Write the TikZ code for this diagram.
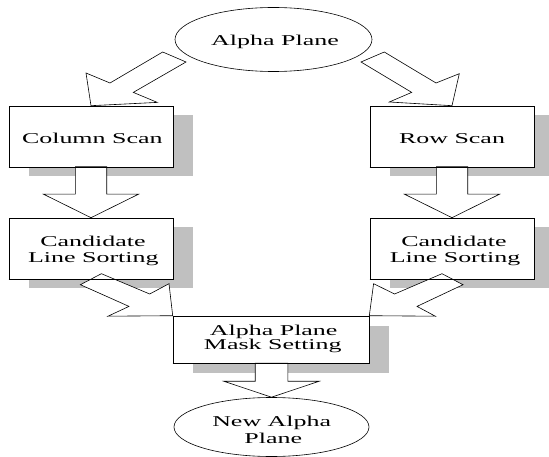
\documentclass[tikz,border=0pt]{standalone}
\usepackage{fontspec}
\newfontfamily\labfont{Liberation Serif}
\usetikzlibrary{shapes.geometric,backgrounds}
\definecolor{shd}{RGB}{192,192,192}
\begin{document}
\begin{tikzpicture}[x=1pt,y=-1pt,
  box/.style={draw, fill=white, line width=0.6pt, minimum width=164pt, minimum height=61pt, inner sep=0pt},
  oval/.style={ellipse, draw, fill=white, line width=0.6pt, inner sep=0pt},
  blk/.style={draw, fill=white, line width=0.6pt, line join=miter},
  edge line/.style={draw, line width=0.6pt},
  lbl/.style={font=\labfont\fontsize{15}{15}\selectfont, xscale=1.73, inner sep=0pt, anchor=base}]
\useasboundingbox (0,0) rectangle (549,457);
\clip (0,0) rectangle (549,457);

% boxes
\node[box] (cs) at (91,136.5) {};
\node[box] (rs) at (452,136.5) {};
\node[box] (cl) at (91,248.5) {};
\node[box] (cr) at (452,248.5) {};
\node[box, minimum width=196pt, minimum height=47pt] (mk) at (271,339.5) {};

% shadows
\begin{pgfonlayer}{background}
\foreach \n in {cs,rs,cl,cr}{
  \fill[shd] ([shift={(20,9)}]\n.south west) rectangle ([shift={(20,9)}]\n.north east);
}
\fill[shd] ([shift={(20,10)}]mk.south west) rectangle ([shift={(20,10)}]mk.north east);
\end{pgfonlayer}

% block arrows
\draw[blk, shift={(cs.north)}] (0,0) -- (66.3,-3.3) -- (42.3,-13.3) -- (95,-43.7) -- (71.7,-53.7) -- (19,-22.7) -- (-5,-32.7) -- cycle;
\draw[blk, shift={(rs.north)}] (0,0) -- (-62.7,-3.7) -- (-40.3,-13.3) -- (-91,-43.7) -- (-67.7,-53.7) -- (-16,-22.7) -- (7.3,-32) -- cycle;
\draw[blk, shift={(cl.north)}] (0,0) -- (-47.5,-23.5) -- (-15.7,-23.5) -- (-15.7,-51) -- (15.7,-51) -- (15.7,-23.5) -- (47.5,-23.5) -- cycle;
\draw[blk, shift={(cr.north)}] (0,0) -- (-47.5,-23.5) -- (-15.7,-23.5) -- (-15.7,-51) -- (15.7,-51) -- (15.7,-23.5) -- (47.5,-23.5) -- cycle;
\draw[blk, shift={(mk.north west)}] (0,0) -- (-3.7,-32) -- (-23,-21.7) -- (-71.3,-42) -- (-92.3,-31) -- (-43.7,-9.3) -- (-64.7,0.5) -- cycle;
\draw[blk, shift={(mk.north east)}] (0,0) -- (4.3,-32) -- (25.3,-21.7) -- (72.7,-42) -- (93.7,-31) -- (47.7,-9.3) -- (66,0.5) -- cycle;

% ellipses
\node[oval, minimum width=197pt, minimum height=64pt] (ap) at (273.5,39.5) {};
\node[oval, minimum width=195pt, minimum height=59pt] (na) at (271.5,427) {};
\draw[blk, shift={(na.north)}] (0,0) -- (-47.8,-16) -- (-16.3,-16) -- (-16.3,-34) -- (16.3,-34) -- (16.3,-16) -- (47.8,-16) -- cycle;
\draw[edge line] (cl.south west) -- (cl.south east);
\draw[edge line] (cr.south west) -- (cr.south east);
\draw[edge line] (cs.south west) -- (cs.south east);
\draw[edge line] (rs.south west) -- (rs.south east);
\draw[edge line] (mk.south west) -- (mk.south east);

% texts
\node[lbl] (apt) at (275,45.7) {Alpha Plane};
\node[lbl] (cst) at (92.3,143.3) {Column Scan};
\node[lbl] (rst) at (452,143.3) {Row Scan};
\node[lbl] (clt1) at (93,246.7) {Candidate};
\node[lbl] (clt2) at (93.3,262.3) {Line Sorting};
\node[lbl] (crt1) at (454,246.7) {Candidate};
\node[lbl] (crt2) at (455,262.3) {Line Sorting};
\node[lbl] (mkt1) at (273.7,335) {Alpha Plane};
\node[lbl] (mkt2) at (272.8,349) {Mask Setting};
\node[lbl] (nat1) at (271.7,426.7) {New Alpha};
\node[lbl] (nat2) at (273.3,443.3) {Plane};
\end{tikzpicture}
\end{document}
